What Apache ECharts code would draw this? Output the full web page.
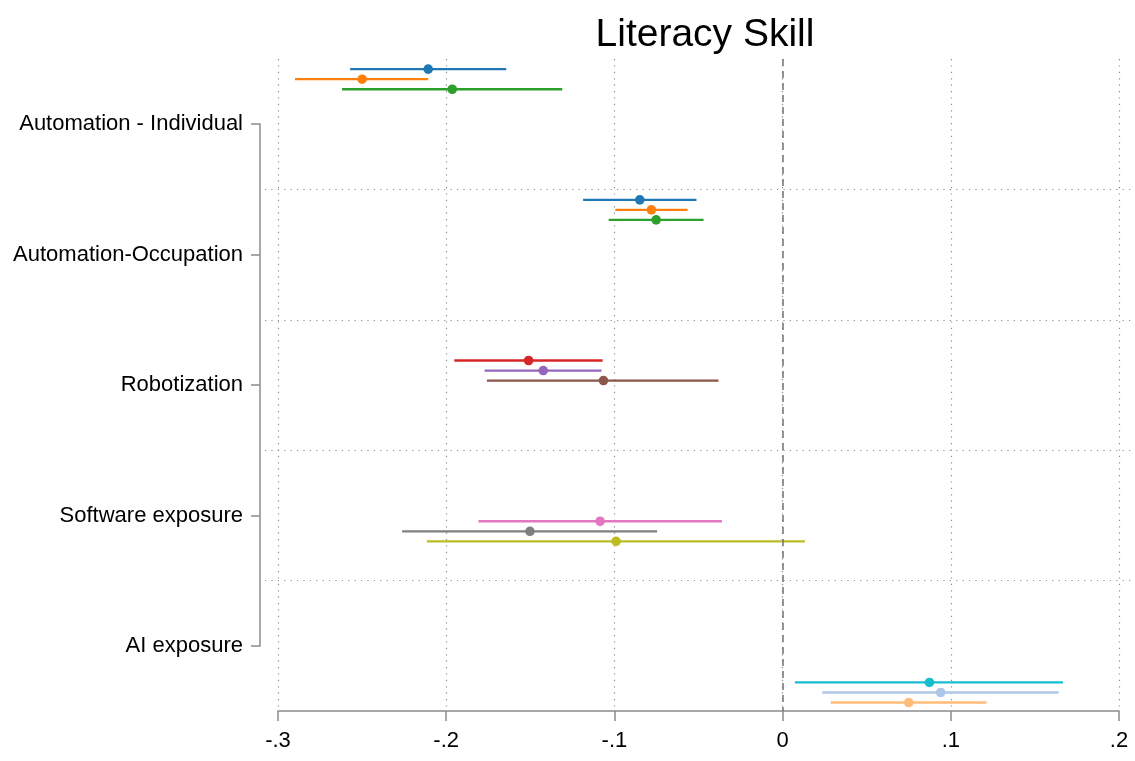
<!DOCTYPE html>
<html>
<head>
<meta charset="utf-8">
<title>Literacy Skill</title>
<script src="https://cdn.jsdelivr.net/npm/echarts@6/dist/echarts.min.js"></script>
<style>
  html, body { margin: 0; padding: 0; background: #fff; }
  #chart { width: 1135px; height: 761px; }
</style>
</head>
<body>
<div id="chart"></div>
<script>
// Coefficient groups shown on the vertical axis
const groups = ['Automation - Individual', 'Automation-Occupation', 'Robotization', 'Software exposure', 'AI exposure'];

// Point estimates and 95% confidence bounds, three specifications per group
const estimates = [
  -0.2107, -0.2500, -0.1964,
  -0.0849, -0.0780, -0.0752,
  -0.1510, -0.1423, -0.1065,
  -0.1085, -0.1502, -0.0990,
   0.0873,  0.0940,  0.0750
];
const lower = [
  -0.2571, -0.2899, -0.2619,
  -0.1186, -0.0994, -0.1034,
  -0.1952, -0.1772, -0.1758,
  -0.1808, -0.2262, -0.2115,
   0.0073,  0.0236,  0.0286
];
const upper = [
  -0.1643, -0.2107, -0.1310,
  -0.0512, -0.0565, -0.0470,
  -0.1070, -0.1077, -0.0381,
  -0.0361, -0.0746,  0.0133,
   0.1667,  0.1641,  0.1212
];

// Row coordinate of each group on the plot's row scale (0 = top, 5 = bottom)
const groupRow = [0.155, 1.157, 2.389, 3.622, 4.858];
const specOffset = [-0.077, 0, 0.077];

// Tick values on the coefficient axis
const xTicks = [-0.3, -0.2, -0.1, 0, 0.1, 0.2];

const palette = [
  '#1f77b4', '#ff7f0e', '#2ca02c',
  '#1f77b4', '#ff7f0e', '#2ca02c',
  '#d62728', '#9467bd', '#8c564b',
  '#e377c2', '#7f7f7f', '#bcbd22',
  '#17becf', '#aec7e8', '#ffbb78'
];

const FONT = '"Liberation Sans", Arial, Helvetica, sans-serif';
const axisGrey = '#8c8c8c';
const dotted = { type: [1.2, 5.2], color: '#8a8a8a', width: 1.2 };

const rows = estimates.map((est, i) => {
  const g = Math.floor(i / 3);
  return [lower[i], upper[i], est, groupRow[g] + specOffset[i % 3], i];
});

function fmtTick(v) {
  const t = Math.round(v * 10);
  if (t === 0) return '0';
  return (t < 0 ? '-' : '') + '.' + Math.abs(t);
}

const chart = echarts.init(document.getElementById('chart'), null, { renderer: 'canvas' });

chart.setOption({
  animation: false,
  backgroundColor: '#ffffff',
  title: {
    text: 'Literacy Skill',
    left: 700,
    textAlign: 'center',
    top: 11,
    textStyle: { fontSize: 39, fontWeight: 'normal', color: '#000', fontFamily: FONT }
  },
  grid: [
    { left: 278, right: 16, top: 59, bottom: 50 },
    { left: 265, right: 2, top: 59, bottom: 50 },
    { left: 260, width: 10, top: 124, bottom: 115 }
  ],
  xAxis: [
    {
      gridIndex: 0, type: 'value', min: xTicks[0], max: xTicks[xTicks.length - 1], interval: 0.1,
      axisLine: { show: true, onZero: false, lineStyle: { color: axisGrey, width: 1.5 } },
      axisTick: { show: true, length: 10, lineStyle: { color: axisGrey, width: 1.5 } },
      axisLabel: { formatter: fmtTick, fontSize: 22, color: '#000', margin: 19, fontFamily: FONT },
      splitLine: { show: true, lineStyle: dotted }
    },
    { gridIndex: 1, type: 'value', min: 0, max: 1, show: false },
    { gridIndex: 2, type: 'value', min: 0, max: 1, show: false }
  ],
  yAxis: [
    {
      gridIndex: 0, type: 'value', min: 0, max: 5, inverse: true,
      axisLine: { show: false }, axisTick: { show: false }, axisLabel: { show: false },
      splitLine: { show: false }
    },
    {
      gridIndex: 1, type: 'value', min: 0, max: 5, interval: 1, inverse: true,
      axisLine: { show: false }, axisTick: { show: false }, axisLabel: { show: false },
      splitLine: { show: true, showMinLine: false, showMaxLine: false, lineStyle: dotted }
    },
    {
      gridIndex: 2, type: 'category', data: groups, boundaryGap: false, inverse: true,
      position: 'left',
      axisLine: { show: true, lineStyle: { color: axisGrey, width: 1.5 } },
      axisTick: { show: true, length: 9, alignWithLabel: true, lineStyle: { color: axisGrey, width: 1.5 } },
      axisLabel: { fontSize: 22, color: '#000', margin: 17, fontFamily: FONT },
      splitLine: { show: false }
    }
  ],
  series: [
    {
      type: 'custom',
      xAxisIndex: 0,
      yAxisIndex: 0,
      clip: false,
      data: rows,
      renderItem: function (params, api) {
        const lo = api.coord([api.value(0), api.value(3)]);
        const hi = api.coord([api.value(1), api.value(3)]);
        const pt = api.coord([api.value(2), api.value(3)]);
        const color = palette[api.value(4)];
        return {
          type: 'group',
          children: [
            {
              type: 'line',
              shape: { x1: lo[0], y1: lo[1], x2: hi[0], y2: hi[1] },
              style: { stroke: color, lineWidth: 2.3 }
            },
            {
              type: 'circle',
              shape: { cx: pt[0], cy: pt[1], r: 4.8 },
              style: { fill: color }
            }
          ]
        };
      },
      markLine: {
        silent: true,
        symbol: ['none', 'none'],
        label: { show: false },
        lineStyle: { type: [7, 5], color: '#7a7a7a', width: 1.6 },
        data: [{ xAxis: 0 }]
      },
      z: 3
    }
  ]
});
</script>
</body>
</html>
